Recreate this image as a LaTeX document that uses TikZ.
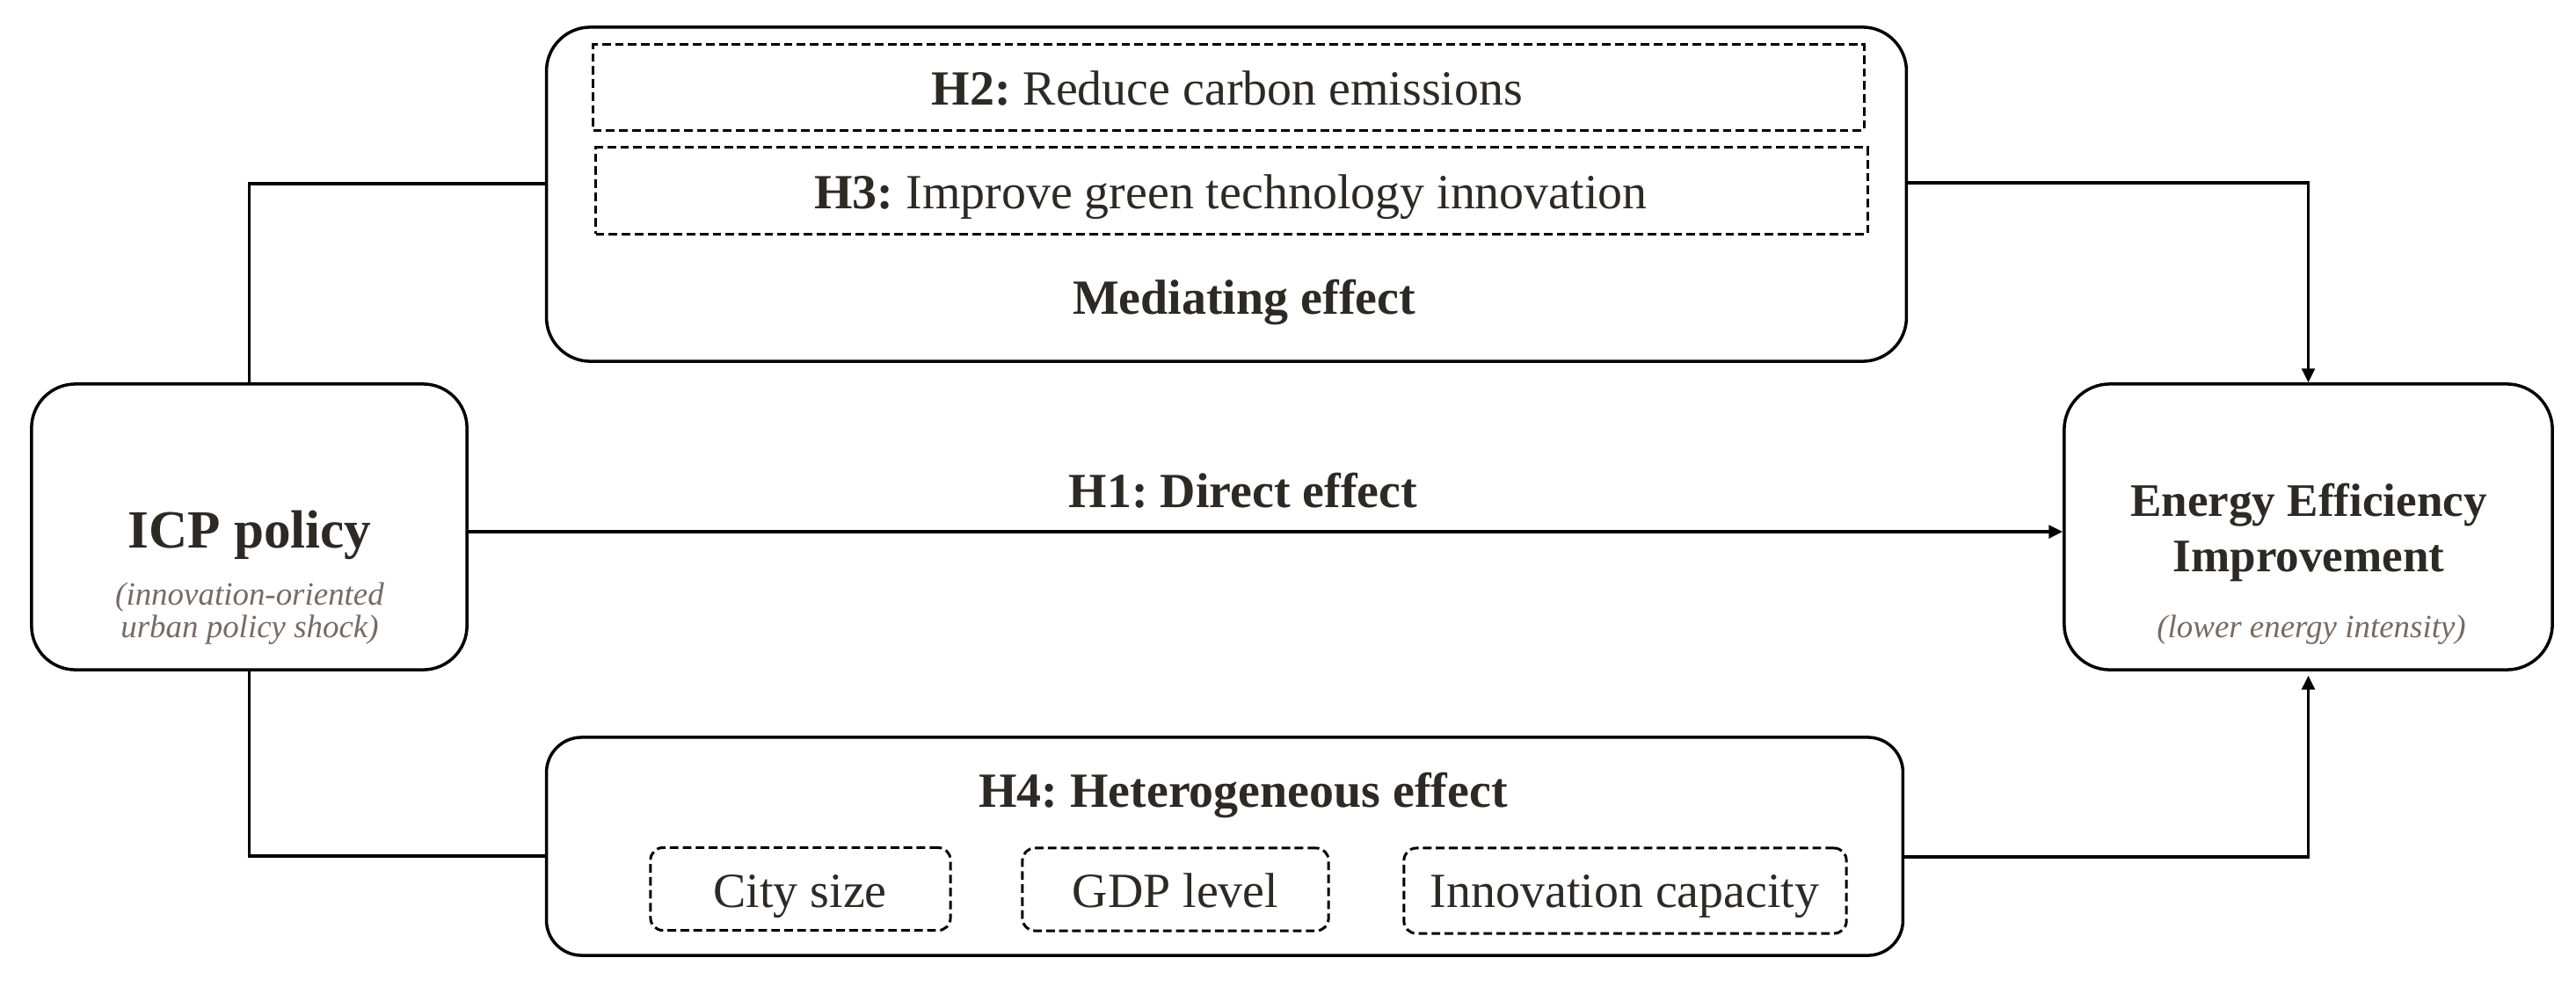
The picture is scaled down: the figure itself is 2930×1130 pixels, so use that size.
\documentclass[tikz,border=0pt]{standalone}
\usepackage{fontspec}
\setmainfont{Liberation Serif}
\usetikzlibrary{arrows.meta}
\definecolor{ink}{HTML}{2D2924}
\definecolor{subink}{HTML}{766B64}
\frenchspacing
\begin{document}
\frenchspacing
\begin{tikzpicture}[x=0.01cm,y=-0.01cm,
  solidbox/.style={draw=black, line width=1pt, inner sep=0pt},
  dashbox/.style={draw=black, line width=0.85pt, dash pattern=on 2.8pt off 1.4pt, inner sep=0pt},
  lbl/.style={anchor=base, inner sep=0pt, text=ink, font=\fontsize{15.9}{19}\selectfont},
  boldlbl/.style={lbl, font=\bfseries\fontsize{15.9}{19}\selectfont},
  sublbl/.style={anchor=base, inner sep=0pt, text=subink, font=\itshape\fontsize{10.5}{12}\selectfont},
  conn/.style={draw=black, line width=0.9pt},
  tip/.style={-{Triangle[length=4.5pt,width=4.2pt]}}]
\useasboundingbox (0,0) rectangle (2930,1130);

% main boxes
\node[solidbox, rounded corners=0.5cm, minimum width=4.95cm, minimum height=3.25cm] (icp) at (283.5,599.5) {};
\node[solidbox, rounded corners=0.52cm, minimum width=5.55cm, minimum height=3.25cm] (eei) at (2625.5,599.5) {};
\node[solidbox, rounded corners=0.5cm, minimum width=15.46cm, minimum height=3.8cm] (med) at (1395,221) {};
\node[solidbox, rounded corners=0.4cm, minimum width=15.42cm, minimum height=2.48cm] (het) at (1393,963) {};

% dashed inner boxes
\node[dashbox, minimum width=14.45cm, minimum height=0.97cm] (h2box) at (1397.5,99.5) {};
\node[dashbox, minimum width=14.46cm, minimum height=0.98cm] (h3box) at (1401,217) {};
\node[dashbox, rounded corners=0.14cm, minimum width=3.41cm, minimum height=0.94cm] (city) at (910.5,1011.5) {};
\node[dashbox, rounded corners=0.14cm, minimum width=3.48cm, minimum height=0.94cm] (gdp) at (1337,1012) {};
\node[dashbox, rounded corners=0.14cm, minimum width=5.03cm, minimum height=0.97cm] (innov) at (1848.5,1013.5) {};

% texts
\node[lbl, font=\bfseries\fontsize{17.4}{20}\selectfont] (icpt) at (284,623) {ICP policy};
\node[sublbl] (icps1) at (284,688) {(innovation-oriented};
\node[sublbl] (icps2) at (284,725) {urban policy shock)};
\node[lbl, font=\bfseries\fontsize{15.1}{18}\selectfont] (eeit1) at (2626,587) {Energy Efficiency};
\node[lbl, font=\bfseries\fontsize{15.1}{18}\selectfont] (eeit2) at (2626,650) {Improvement};
\node[sublbl] (eeis) at (2629,725) {(lower energy intensity)};
\node[boldlbl] (h1t) at (1414,577) {H1:\ Direct effect};
\node[lbl] (h2t) at (1396,119) {\textbf{H2:}\ Reduce carbon emissions};
\node[lbl] (h3t) at (1400,237) {\textbf{H3:}\ Improve green technology innovation};
\node[boldlbl] (medt) at (1415,357) {Mediating effect};
\node[boldlbl] (h4t) at (1414,918) {H4:\ Heterogeneous effect};
\node[lbl] (cityt) at (910,1032) {City size};
\node[lbl] (gdpt) at (1337,1032) {GDP level};
\node[lbl] (innovt) at (1848,1032) {Innovation capacity};

% connector anchors
\coordinate (medin) at (622,209);
\coordinate (medout) at (2168,208);
\coordinate (hetin) at (622,974);
\coordinate (hetout) at (2164,975);
\coordinate (h1row) at (1400,605);

% connectors
\draw[conn] (icp.north) |- (medin);
\draw[conn, tip] (medout) -| (eei.north);
\draw[conn] (icp.south) |- (hetin);
\draw[conn, tip, shorten >=1.4pt] (hetout) -| (eei.south);
\draw[conn, tip] (icp.east |- h1row) -- (eei.west |- h1row);
\end{tikzpicture}
\end{document}
